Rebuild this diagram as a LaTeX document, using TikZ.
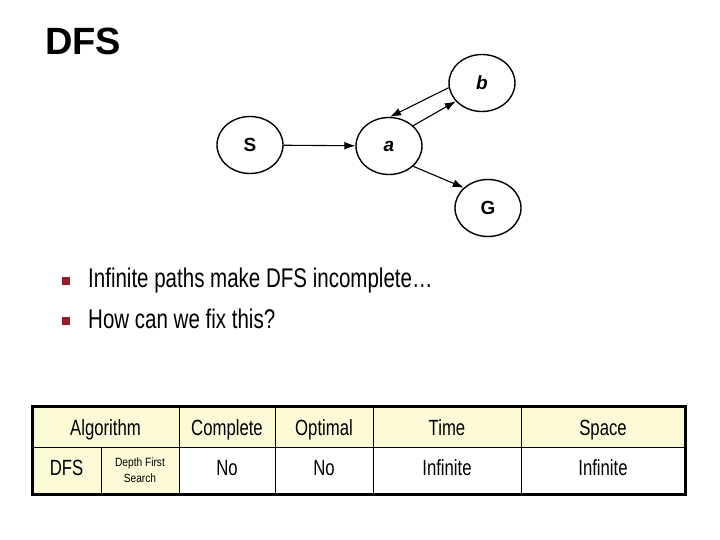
\documentclass[tikz,border=0pt]{standalone}
\usepackage{fontspec}
\setmainfont{Liberation Sans}
\newfontfamily\narrowfont[FakeStretch=0.76]{Liberation Sans}
\newfontfamily\smallnarrowfont[FakeStretch=0.85]{Liberation Sans}
\usepackage{xcolor}
\usetikzlibrary{arrows.meta, positioning, shapes.geometric}
\definecolor{cellcream}{RGB}{252,250,215}
\definecolor{bulletred}{RGB}{150,30,40}

\begin{document}
\begin{tikzpicture}[x=1pt, y=-1pt,
  vertex/.style={ellipse, draw, line width=1.4pt, minimum width=66pt, minimum height=57pt,
    inner sep=0pt, font=\fontsize{19}{19}\selectfont\bfseries},
  arr/.style={-{Latex[length=11pt,width=8pt]}, line width=1.1pt},
  cell/.style={rectangle, draw, line width=0.8pt, anchor=north west, inner sep=0pt,
    outer sep=0pt, align=center, text depth=0pt, font=\narrowfont\fontsize{22}{22}\selectfont},
  head/.style={cell, fill=cellcream, minimum height=41pt, text height=17pt},
  body/.style={cell, minimum height=47pt, text height=9pt},
  bul/.style={rectangle, fill=bulletred, minimum width=8pt, minimum height=8pt, inner sep=0pt},
  item/.style={anchor=base west, inner sep=0pt, font=\narrowfont\fontsize{27}{27}\selectfont}
]
\useasboundingbox (0,0) rectangle (720,540);

\node[anchor=base west, inner sep=0pt, font=\fontsize{38}{38}\selectfont\bfseries] (title) at (45,55) {DFS};

% search graph
\node[vertex] (S) at (250,145) {S};
\node[vertex] (a) at (389,146) {\itshape a};
\node[vertex] (b) at (482,83) {\itshape b};
\node[vertex] (G) at (488,208) {G};

\draw[arr] (S) -- (a);
\draw[arr] (a.40) -- (b.215);
\draw[arr] (b.188) -- (a.88);
\draw[arr] (a.-40) -- (G.140);

% bullet points
\node[bul] (bul1) at (66,281) {};
\node[bul] (bul2) at (66,321) {};
\node[item] (item1) at (88,287) {Infinite paths make DFS incomplete\ldots};
\node[item] (item2) at (88,328) {How can we fix this?};

% summary table
\node[head, minimum width=147pt] (algo) at (32,406) {Algorithm};
\node[head, minimum width=96pt] (compl) at (179,406) {Complete};
\node[head, minimum width=98pt] (optim) at (275,406) {Optimal};
\node[head, minimum width=148pt] (time) at (373,406) {Time};
\node[head, minimum width=164pt] (space) at (521,406) {Space};

\node[body, fill=cellcream, minimum width=69pt] (dfs) at (32,447) {DFS};
\node[body, fill=cellcream, minimum width=78pt, text height=, text depth=,
  font=\smallnarrowfont\fontsize{12}{16}\selectfont] (dfsname) at (101,447) {Depth First\\Search};
\node[body, minimum width=96pt] (complno) at (179,447) {No};
\node[body, minimum width=98pt] (optimno) at (275,447) {No};
\node[body, minimum width=148pt] (timeinf) at (373,447) {Infinite};
\node[body, minimum width=164pt] (spaceinf) at (521,447) {Infinite};

\draw[line width=3pt] (algo.north west) rectangle (spaceinf.south east);
\end{tikzpicture}
\end{document}
